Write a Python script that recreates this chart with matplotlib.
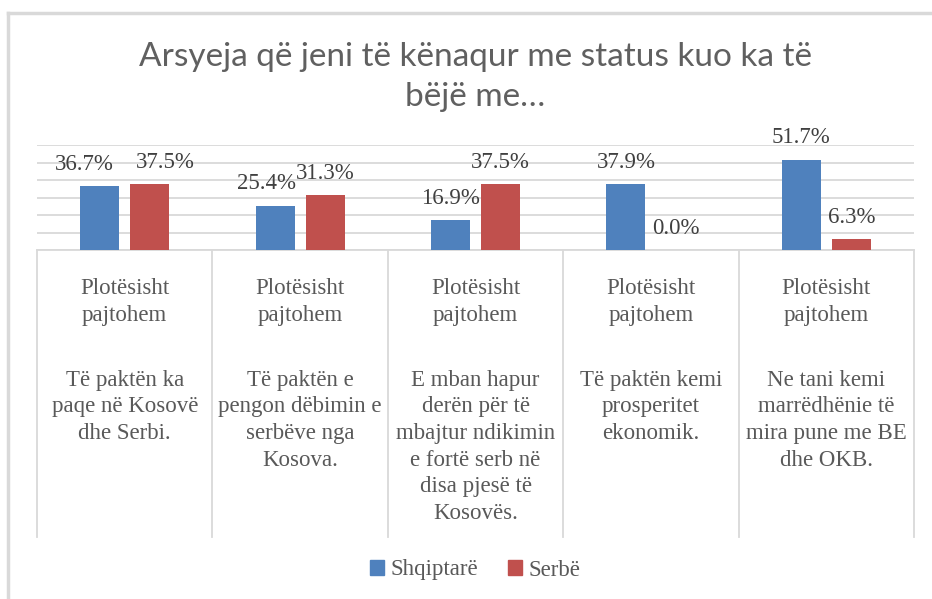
import numpy as np
import matplotlib.pyplot as plt
from matplotlib.lines import Line2D
from matplotlib.patches import Patch

titulli = "Arsyeja që jeni të kënaqur me status kuo ka të\nbëjë me…"
koka = "Plotësisht\npajtohem"
pershkrimet = [
    "Të paktën ka\npaqe në Kosovë\ndhe Serbi.",
    "Të paktën e\npengon dëbimin e\nserbëve nga\nKosova.",
    "E mban hapur\nderën për të\nmbajtur ndikimin\ne fortë serb në\ndisa pjesë të\nKosovës.",
    "Të paktën kemi\nprosperitet\nekonomik.",
    "Ne tani kemi\nmarrëdhënie të\nmira pune me BE\ndhe OKB.",
]
shqiptare = [36.7, 25.4, 16.9, 37.9, 51.7]
serbe = [37.5, 31.3, 37.5, 0.0, 6.3]
seri = ["Shqiptarë", "Serbë"]

blu = "#4F81BD"
kuq = "#C0504D"
gri = "#595959"
vija = "#D9D9D9"
plt.rcParams["font.family"] = ["Liberation Serif", "DejaVu Serif"]
fs = 16.5

# zhvendosje horizontale e etiketave (si ne origjinal, qe te mos mbivendosen)
dx1 = [-11, -6, 0, 0, 0]
dx2 = [11, 0, 0, 0, 0]

fig = plt.figure(figsize=(9.32, 5.99), dpi=100)
ax = fig.add_axes([37 / 932, 1 - 250 / 599, 877 / 932, 105 / 599])

x = np.arange(len(shqiptare))
w = 0.222
off = 0.1425
b1 = ax.bar(x - off, shqiptare, w, color=blu, zorder=3)
b2 = ax.bar(x + off, serbe, w, color=kuq, zorder=3)

for bars, vals, dx in ((b1, shqiptare, dx1), (b2, serbe, dx2)):
    for r, v, d in zip(bars, vals, dx):
        ax.annotate(f"{v:.1f}%", (r.get_x() + r.get_width() / 2, v),
                    xytext=(d, 8), textcoords="offset points",
                    ha="center", va="bottom", fontsize=fs, color="#404040")

ax.set_xlim(-0.5, len(x) - 0.5)
ax.set_ylim(0, 60)
ax.set_yticks(np.arange(0, 61, 10))
ax.yaxis.grid(True, color=vija, lw=1.3, zorder=0)
ax.tick_params(left=False, bottom=False, labelleft=False, labelbottom=False)
for s in ("top", "right", "left"):
    ax.spines[s].set_visible(False)
ax.spines["bottom"].set_color(vija)
ax.spines["bottom"].set_linewidth(1.3)

# vijat ndarese te kategorive
tr = ax.get_xaxis_transform()
for k in range(len(x) + 1):
    ax.add_line(Line2D([k - 0.5, k - 0.5], [0, -2.73], transform=tr,
                       color=vija, lw=1.3, clip_on=False))

for i, p in enumerate(pershkrimet):
    ax.text(i, -0.27, koka, transform=tr, ha="center", va="top",
            fontsize=fs, color=gri, linespacing=1.33)
    ax.text(i, -1.14, p, transform=tr, ha="center", va="top",
            fontsize=fs, color=gri, linespacing=1.35)

fig.text(0.51, 1 - 42 / 599, titulli, ha="center", va="top", fontsize=24,
         family=["Lato", "DejaVu Sans"], color="#606060", linespacing=1.4)

leg = fig.legend(handles=[Patch(color=blu), Patch(color=kuq)], labels=seri,
                 loc="center", bbox_to_anchor=(0.51, 1 - 570 / 599), ncol=2,
                 frameon=False, handlelength=0.6, handleheight=0.6,
                 handletextpad=0.3, columnspacing=1.3, fontsize=fs)
for t in leg.get_texts():
    t.set_color(gri)

# korniza e jashtme (vetem lart e majtas)
fig.add_artist(Line2D([8 / 932, 1], [1 - 13 / 599] * 2, color=vija, lw=2.5))
fig.add_artist(Line2D([8 / 932] * 2, [0, 1 - 13 / 599], color=vija, lw=2.5))

fig.savefig("out.png", dpi=100, facecolor="white")
